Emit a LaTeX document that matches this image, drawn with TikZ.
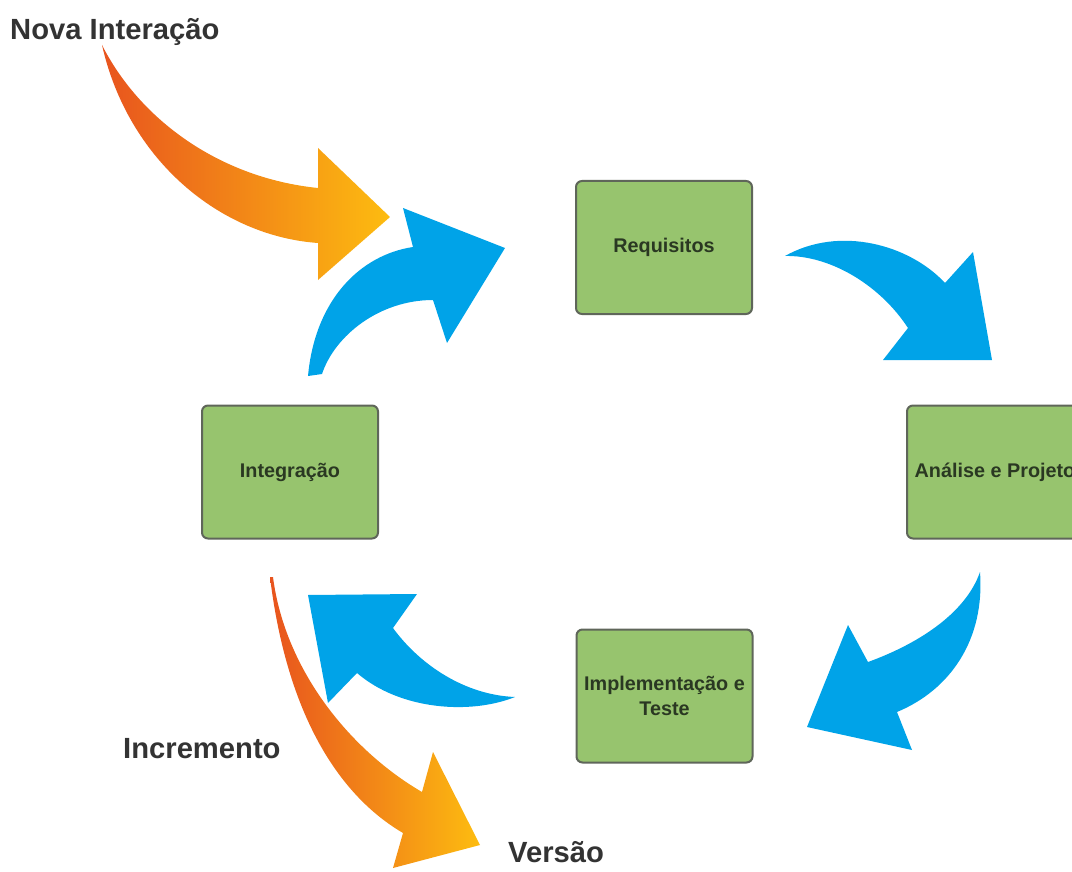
\documentclass[tikz,border=0pt]{standalone}
\usepackage{fontspec}
\setmainfont{Liberation Sans}
\definecolor{stepgreen}{RGB}{151,196,110}
\definecolor{stepedge}{RGB}{95,102,90}
\definecolor{steptext}{RGB}{42,56,34}
\definecolor{flowblue}{RGB}{0,163,232}
\definecolor{hotorange}{RGB}{232,84,30}
\definecolor{warmyellow}{RGB}{253,188,16}
\definecolor{labelgray}{RGB}{51,51,51}
\tikzset{
  stepbox/.style={draw=stepedge, line width=2pt, fill=stepgreen, rounded corners=6pt,
    minimum width=176pt, minimum height=133pt, align=center,
    text=steptext, font=\bfseries\fontsize{19.8}{25}\selectfont},
  sidelabel/.style={anchor=base west, text=labelgray, inner sep=0pt,
    font=\bfseries\fontsize{29.2}{32}\selectfont},
  cyclearrow/.style={fill=flowblue},
  versionarrow/.style={left color=hotorange, right color=warmyellow}
}
\begin{document}
\begin{tikzpicture}[x=1pt,y=-1pt]
\useasboundingbox (0,0) rectangle (1072,872);

% process steps (the last one runs past the right edge of the page)
\node[stepbox] (req) at (664,247.5) {Requisitos};
\node[stepbox] (ana) at (995,472) {Análise e Projeto};
\node[stepbox] (imp) at (664.5,696) {Implementação e\\Teste};
\node[stepbox] (int) at (290,472) {Integração};

% labels
\node[sidelabel] (nova) at (10,40) {Nova Interação};
\node[sidelabel] (incr) at (123,758) {Incremento};
\node[sidelabel] (vers) at (508,862) {Versão};

% incoming iteration arrow
\path[versionarrow] (102,45) .. controls (140,120) and (220,178) .. (318,188)
  -- (318,148) -- (390,217) -- (318,280) -- (318,243)
  .. controls (220,236) and (128,160) .. (102,45) -- cycle;

% cycle arrows
\path[cyclearrow] (308,376) .. controls (315,300) and (360,255) .. (413,247)
  -- (403,208) -- (505,248) -- (447,343) -- (433,300)
  .. controls (380,300) and (335,335) .. (322,374) -- cycle;

\path[cyclearrow] (785,256) .. controls (840,225) and (910,245) .. (945,283)
  -- (973,252) -- (992,360) -- (883,360) -- (908,328)
  .. controls (880,285) and (830,255) .. (785,256) -- cycle;

\path[cyclearrow] (980,572) .. controls (985,640) and (950,690) .. (897,712)
  -- (912,750) -- (807,727) -- (848,625) -- (868,662)
  .. controls (915,645) and (965,615) .. (980,572) -- cycle;

\path[cyclearrow] (515,697) .. controls (470,715) and (400,710) .. (357,673)
  -- (328,703) -- (308,595) -- (417,594) -- (393,628)
  .. controls (420,665) and (465,695) .. (515,697) -- cycle;

% outgoing release arrow
\path[versionarrow] (270,577) .. controls (285,700) and (330,790) .. (403,833)
  -- (393,868) -- (480,845) -- (433,752) -- (422,792)
  .. controls (350,750) and (285,670) .. (273,577) -- cycle;
\end{tikzpicture}
\end{document}
